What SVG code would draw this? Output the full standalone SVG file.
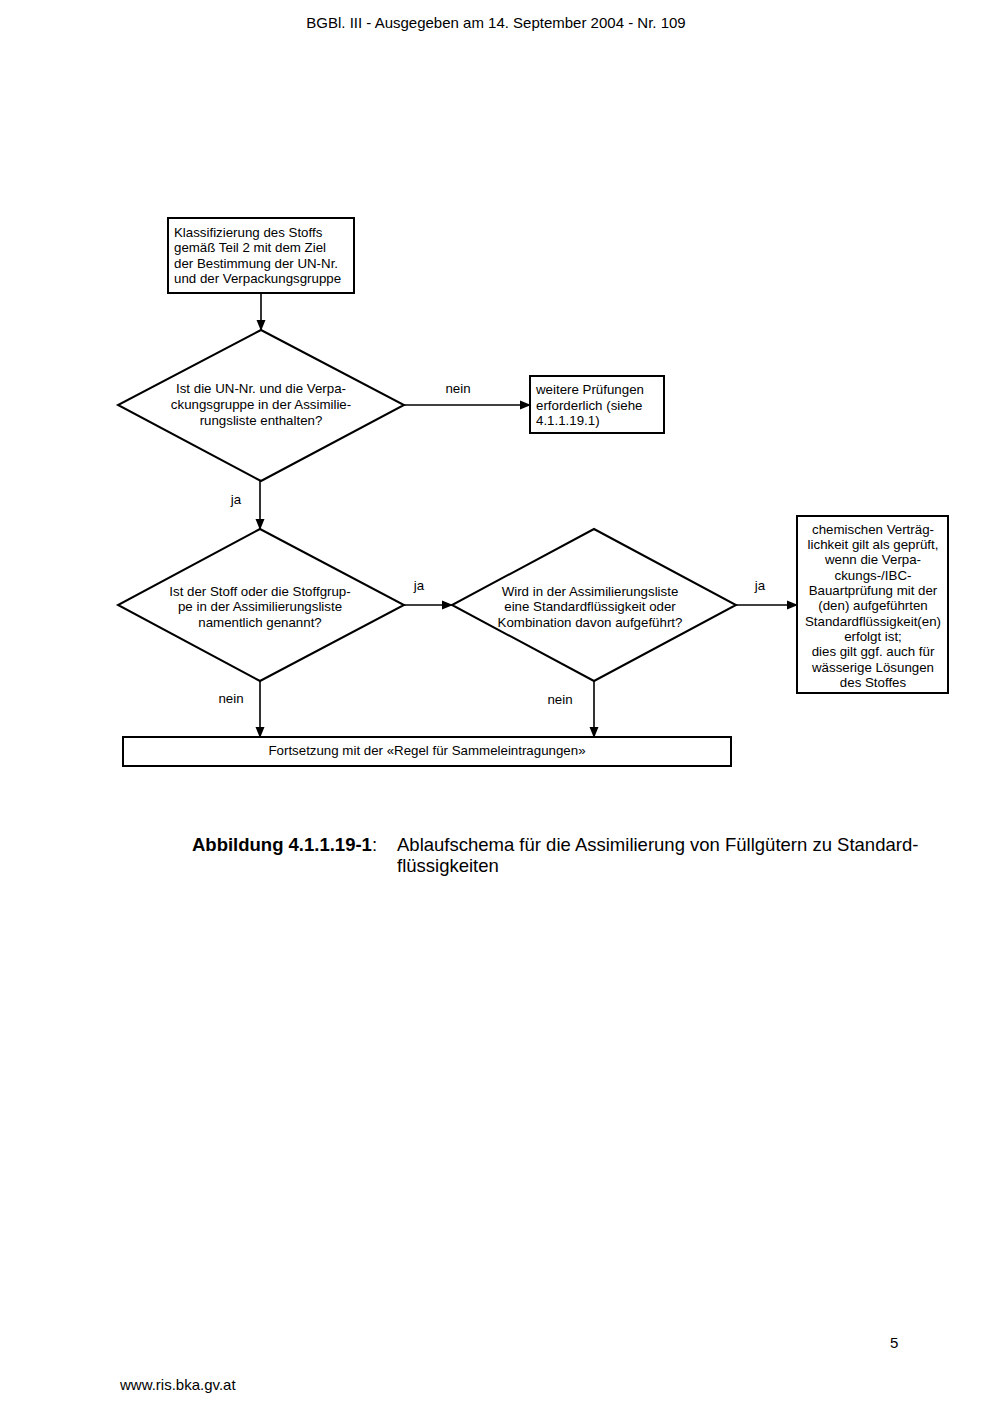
<svg xmlns="http://www.w3.org/2000/svg" width="992" height="1403" viewBox="0 0 992 1403">
<style>
.t{font-family:"Liberation Sans",Arial,sans-serif;font-size:13.3px;fill:#000}
.c{text-anchor:middle}
.box{fill:#fff;stroke:#000;stroke-width:2}
.ln{stroke:#000;stroke-width:1.6;fill:none}
.pg{font-family:"Liberation Sans",Arial,sans-serif;font-size:15px;fill:#000}
.cap{font-family:"Liberation Sans",Arial,sans-serif;font-size:18.5px;fill:#000}
</style>
<defs>
<marker id="ah" markerWidth="11" markerHeight="10" refX="10" refY="5" orient="auto" markerUnits="userSpaceOnUse">
<path d="M0,0.5 L11,5 L0,9.5 Z" fill="#000"/>
</marker>
</defs>
<rect width="992" height="1403" fill="#fff"/>
<text class="pg c" x="496" y="28">BGBl. III - Ausgegeben am 14. September 2004 - Nr. 109</text>

<g id="connectors">
<line class="ln" x1="261" y1="293" x2="261" y2="330" marker-end="url(#ah)"/>
<line class="ln" x1="404" y1="405" x2="530" y2="405" marker-end="url(#ah)"/>
<line class="ln" x1="260" y1="481" x2="260" y2="529" marker-end="url(#ah)"/>
<line class="ln" x1="404" y1="605" x2="452" y2="605" marker-end="url(#ah)"/>
<line class="ln" x1="736" y1="605" x2="797" y2="605" marker-end="url(#ah)"/>
<line class="ln" x1="260" y1="681" x2="260" y2="737" marker-end="url(#ah)"/>
<line class="ln" x1="594" y1="681" x2="594" y2="737" marker-end="url(#ah)"/>
<text class="t c" x="458" y="393">nein</text>
<text class="t c" x="236" y="504">ja</text>
<text class="t c" x="419" y="590">ja</text>
<text class="t c" x="760" y="590">ja</text>
<text class="t c" x="231" y="703">nein</text>
<text class="t c" x="560" y="704">nein</text>
</g>

<g id="n1">
<rect class="box" x="168" y="218" width="186" height="75"/>
<text class="t" x="174" y="237">Klassifizierung des Stoffs</text>
<text class="t" x="174" y="252">gemäß Teil 2 mit dem Ziel</text>
<text class="t" x="174" y="268">der Bestimmung der UN-Nr.</text>
<text class="t" x="174" y="283">und der Verpackungsgruppe</text>
</g>

<g id="d1">
<polygon class="box" points="261,330 404,405 261,481 118,405"/>
<text class="t c" x="261" y="393">Ist die UN-Nr. und die Verpa-</text>
<text class="t c" x="261" y="409">ckungsgruppe in der Assimilie-</text>
<text class="t c" x="261" y="425">rungsliste enthalten?</text>
</g>

<g id="n2">
<rect class="box" x="530" y="376" width="134" height="57"/>
<text class="t" x="536" y="394">weitere Prüfungen</text>
<text class="t" x="536" y="410">erforderlich (siehe</text>
<text class="t" x="536" y="425">4.1.1.19.1)</text>
</g>

<g id="d2">
<polygon class="box" points="260,529 404,605 260,681 118,605"/>
<text class="t c" x="260" y="596">Ist der Stoff oder die Stoffgrup-</text>
<text class="t c" x="260" y="611">pe in der Assimilierungsliste</text>
<text class="t c" x="260" y="627">namentlich genannt?</text>
</g>

<g id="d3">
<polygon class="box" points="594,529 736,605 594,681 452,605"/>
<text class="t c" x="590" y="596">Wird in der Assimilierungsliste</text>
<text class="t c" x="590" y="611">eine Standardflüssigkeit oder</text>
<text class="t c" x="590" y="627">Kombination davon aufgeführt?</text>
</g>

<g id="n3">
<rect class="box" x="797" y="516" width="151" height="177"/>
<text class="t c" x="873" y="534">chemischen Verträg-</text>
<text class="t c" x="873" y="549">lichkeit gilt als geprüft,</text>
<text class="t c" x="873" y="564">wenn die Verpa-</text>
<text class="t c" x="873" y="580">ckungs-/IBC-</text>
<text class="t c" x="873" y="595">Bauartprüfung mit der</text>
<text class="t c" x="873" y="610">(den) aufgeführten</text>
<text class="t c" x="873" y="626">Standardflüssigkeit(en)</text>
<text class="t c" x="873" y="641">erfolgt ist;</text>
<text class="t c" x="873" y="656">dies gilt ggf. auch für</text>
<text class="t c" x="873" y="672">wässerige Lösungen</text>
<text class="t c" x="873" y="687">des Stoffes</text>
</g>

<g id="n4">
<rect class="box" x="123" y="737" width="608" height="29"/>
<text class="t c" x="427" y="755">Fortsetzung mit der «Regel für Sammeleintragungen»</text>
</g>

<text class="cap" x="192" y="851"><tspan font-weight="bold">Abbildung 4.1.1.19-1</tspan>:</text>
<text class="cap" x="397" y="851">Ablaufschema für die Assimilierung von Füllgütern zu Standard-</text>
<text class="cap" x="397" y="872">flüssigkeiten</text>

<text class="pg" x="890" y="1348">5</text>
<text class="pg" x="120" y="1390">www.ris.bka.gv.at</text>
</svg>
